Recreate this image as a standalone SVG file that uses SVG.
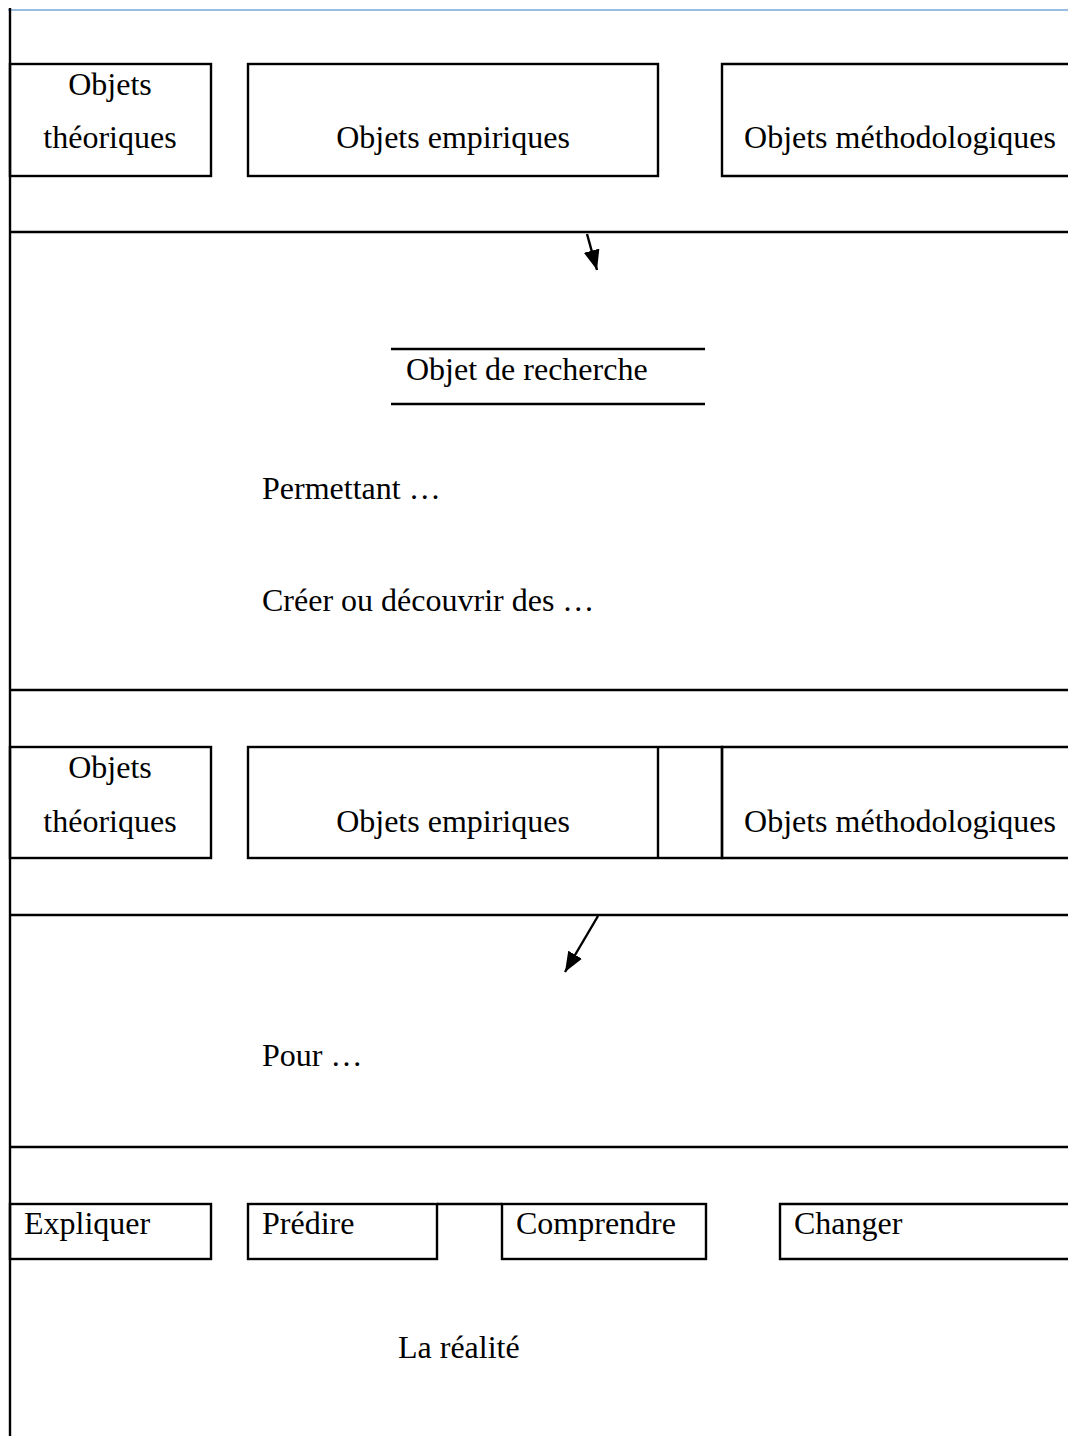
<svg xmlns="http://www.w3.org/2000/svg" width="1068" height="1436" viewBox="0 0 1068 1436">
<style>
.b{fill:none;stroke:#000;stroke-width:2.4}
.l{stroke:#000;stroke-width:2.4}
text{font-family:"Liberation Serif","Times New Roman",serif;font-size:32px;fill:#000}
.c{text-anchor:middle}
</style>
<defs>
<marker id="ah2" viewBox="0 0 20 16" refX="20" refY="8" markerWidth="20" markerHeight="16" orient="auto" markerUnits="userSpaceOnUse">
<path d="M0,0 L20,8 L0,16 Z" fill="#000"/>
</marker>
</defs>
<rect width="1068" height="1436" fill="#fff"/>
<line x1="8" y1="10" x2="1068" y2="10" stroke="#7ba7d9" stroke-width="1.5"/>
<g id="frame">
<line class="l" x1="10" y1="8" x2="10" y2="1436"/>
<line class="l" x1="10" y1="232" x2="1068" y2="232"/>
<line class="l" x1="10" y1="690" x2="1068" y2="690"/>
<line class="l" x1="10" y1="915" x2="1068" y2="915"/>
<line class="l" x1="10" y1="1147" x2="1068" y2="1147"/>
</g>
<g id="n1"><rect class="b" x="10" y="64" width="201" height="112"/><text class="c" x="110" y="95">Objets</text><text class="c" x="110" y="148">théoriques</text></g>
<g id="n2"><rect class="b" x="248" y="64" width="410" height="112"/><text class="c" x="453" y="148">Objets empiriques</text></g>
<g id="n3"><path class="b" d="M1068,64 H722 V176 H1068"/><text class="c" x="900" y="148">Objets méthodologiques</text></g>
<g id="n4"><line class="l" x1="391" y1="349" x2="705" y2="349"/><line class="l" x1="391" y1="404" x2="705" y2="404"/><text x="406" y="380">Objet de recherche</text></g>
<g id="n5"><text x="262" y="499">Permettant …</text></g>
<g id="n6"><text x="262" y="611">Créer ou découvrir des …</text></g>
<g id="n7"><rect class="b" x="10" y="747" width="201" height="111"/><text class="c" x="110" y="778">Objets</text><text class="c" x="110" y="832">théoriques</text></g>
<g id="n8"><rect class="b" x="248" y="747" width="474" height="111"/><line class="l" x1="658" y1="747" x2="658" y2="858"/><text class="c" x="453" y="832">Objets empiriques</text></g>
<g id="n9"><path class="b" d="M1068,747 H722 V858 H1068"/><text class="c" x="900" y="832">Objets méthodologiques</text></g>
<g id="n10"><text x="262" y="1066">Pour …</text></g>
<g id="n11"><rect class="b" x="10" y="1204" width="201" height="55"/><text x="24" y="1234">Expliquer</text></g>
<g id="n12"><rect class="b" x="248" y="1204" width="189" height="55"/><text x="262" y="1234">Prédire</text></g>
<g id="n13"><rect class="b" x="502" y="1204" width="204" height="55"/><text x="516" y="1234">Comprendre</text></g>
<g id="n14"><path class="b" d="M1068,1204 H780 V1259 H1068"/><text x="794" y="1234">Changer</text></g>
<g id="n15"><text x="398" y="1358">La réalité</text></g>
<g id="connectors">
<line class="l" x1="437" y1="1204" x2="502" y2="1204"/>
<line class="l" x1="587" y1="234" x2="597" y2="270" marker-end="url(#ah2)"/>
<line class="l" x1="598" y1="916" x2="565" y2="972" marker-end="url(#ah2)"/>
</g>
</svg>
